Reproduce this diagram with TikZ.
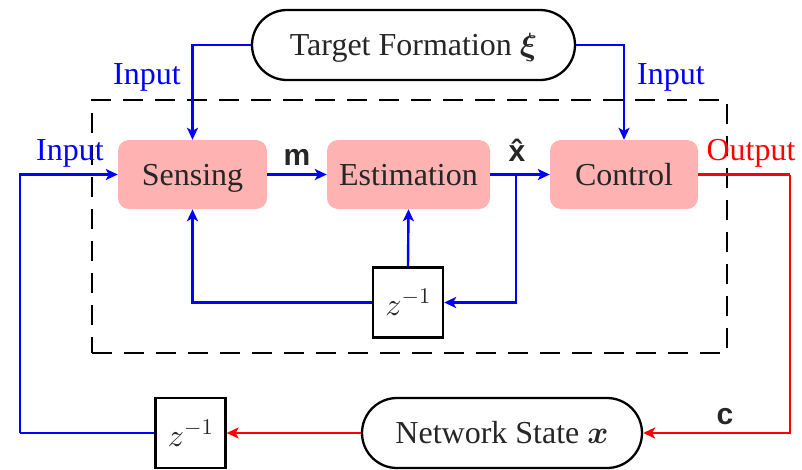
\documentclass[tikz,border=0pt]{standalone}
\usepackage[no-math]{fontspec}
\setmainfont{Liberation Serif}
\newfontfamily\bsans{Liberation Sans}
\usepackage{bm}
\DeclareFontShape{OML}{cmm}{m}{it}{<->cmmi10}{}
\DeclareFontShape{OML}{cmm}{b}{it}{<->cmmib10}{}
\DeclareFontShape{OMS}{cmsy}{m}{n}{<->cmsy10}{}
\DeclareFontShape{OMS}{cmsy}{b}{n}{<->cmbsy10}{}
\DeclareFontShape{OT1}{cmr}{m}{n}{<->cmr10}{}
\DeclareFontShape{OT1}{cmr}{bx}{n}{<->cmbx10}{}
\usetikzlibrary{arrows.meta}
\definecolor{pinkfill}{RGB}{255,178,178}
\begin{document}
\begin{tikzpicture}[x=1pt,y=-1pt,
  every node/.style={font=\fontsize{32}{38}\selectfont, text=black!85},
  blockbox/.style={fill=pinkfill, rounded corners=11pt, draw=none, inner sep=0pt, minimum height=69pt, text height=23pt, text depth=2pt},
  pillbox/.style={draw=black, line width=2.3pt, rounded corners=35pt, inner sep=0pt, minimum height=70pt, text height=23pt, text depth=2pt},
  zbox/.style={draw=black, line width=2.3pt, inner sep=0pt, minimum width=70pt, minimum height=70pt},
  arr/.style={line width=2.4pt, -{Stealth[length=12pt,width=11pt,inset=3pt]}},
  plain/.style={line width=2.4pt},
  lab/.style={inner sep=0pt},
  bsym/.style={inner sep=0pt, font=\fontsize{30}{36}\selectfont\bsans\bfseries, text=black!85}
]
\useasboundingbox (0,0) rectangle (802,469);

% dashed frame
\node[draw=black, line width=2.6pt, dash pattern=on 20pt off 12pt, minimum width=635pt, minimum height=253pt, inner sep=0pt] (frame) at (409.5,226.5) {};

% blocks
\node[blockbox, minimum width=149pt] (sensing) at (192.5,174.5) {Sensing};
\node[blockbox, minimum width=163pt] (estimation) at (408.5,174.5) {Estimation};
\node[blockbox, minimum width=148pt] (control) at (624,174.5) {Control};

\node[pillbox, minimum width=323pt] (target) at (413.5,45) {Target Formation $\bm{\xi}$};
\node[pillbox, minimum width=280pt] (net) at (502,433) {Network State $\bm{x}$};

\node[zbox] (zi) at (408,302.5) {$z^{-1}$};
\node[zbox] (zb) at (190.5,433) {$z^{-1}$};

% helper coordinates
\coordinate (lcorner) at (20,433);
\coordinate (br) at (516,174.5);
\coordinate (rc) at (790,174.5);

% blue connectors
\draw[blue, arr] (target.west) -| (sensing.north);
\draw[blue, arr] (target.east) -| (control.north);
\draw[blue, plain] (zb.west) -- (lcorner);
\draw[blue, arr] (lcorner) |- (sensing.west);
\draw[blue, arr] (sensing.east) -- (estimation.west);
\draw[blue, arr] (estimation.east) -- (control.west);
\draw[blue, arr] (br) |- (zi.east);
\draw[blue, arr] (zi.west) -| (sensing.south);
\draw[blue, arr] (zi.north) -- (estimation.south);

% red connectors
\draw[red, plain] (control.east) -- (rc);
\draw[red, arr] (rc) |- (net.east);
\draw[red, arr] (net.west) -- (zb.east);

% labels
\node[lab, text=blue] (in1) at (147,77) {Input};
\node[lab, text=blue] (in2) at (671,77) {Input};
\node[lab, text=blue] (in3) at (70,153) {Input};
\node[lab, text=red] (out) at (751,153) {Output};
\node[bsym] (mlab) at (297,157) {m};
\node[bsym] (xlab) at (517,150) {\^{x}};
\node[bsym] (clab) at (725,417) {c};
\end{tikzpicture}
\end{document}
